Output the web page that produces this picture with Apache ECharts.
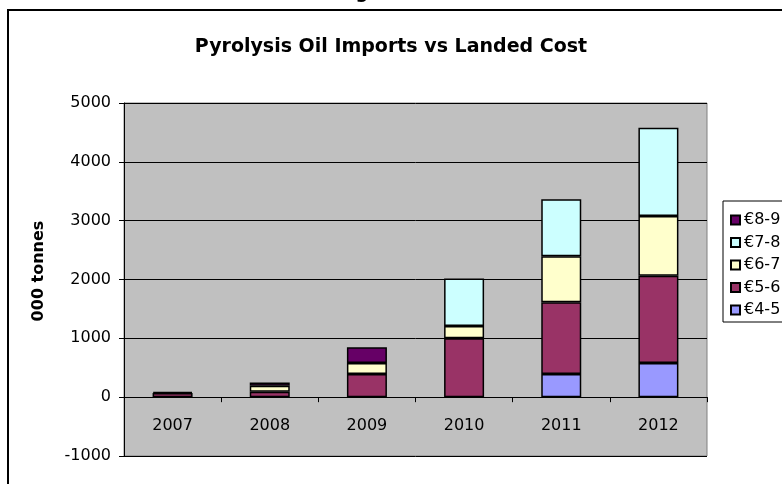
<!DOCTYPE html>
<html>
<head>
<meta charset="utf-8">
<script src="https://cdn.jsdelivr.net/npm/echarts@6/dist/echarts.min.js"></script>
<style>
  html, body { margin: 0; padding: 0; background: #fff; }
  #chart { width: 782px; height: 484px; }
</style>
</head>
<body>
<div id="chart"></div>
<script>
// Import years
const years = ['2007', '2008', '2009', '2010', '2011', '2012'];

// Imports by landed-cost band, thousand tonnes (null = none in that year)
const band45 = [null, null, null, null, 395, 580];
const band56 = [70, 90, 395, 1000, 1220, 1485];
const band67 = [null, 105, 185, 210, 780, 1015];
const band78 = [null, null, null, 805, 970, 1500];
const band89 = [20, 55, 270, null, null, null];

const bandNames = ['€4-5', '€5-6', '€6-7', '€7-8', '€8-9'];
const bandValues = [band45, band56, band67, band78, band89];
const bandColors = ['#9999FF', '#993366', '#FFFFCC', '#CCFFFF', '#660066'];

const FONT = 'DejaVu Sans, Liberation Sans, Arial, sans-serif';

const chart = echarts.init(document.getElementById('chart'), null, { renderer: 'canvas' });

const series = bandNames.map((name, i) => ({
  name: name,
  type: 'bar',
  stack: 'imports',
  barWidth: 40,
  data: bandValues[i],
  itemStyle: { color: bandColors[i], borderColor: '#000', borderWidth: 1.5 },
  emphasis: { disabled: true }
}));

chart.setOption({
  animation: false,
  backgroundColor: '#fff',
  title: {
    text: 'Pyrolysis Oil Imports vs Landed Cost',
    left: 'center',
    top: 33,
    textStyle: { fontFamily: FONT, fontSize: 19, fontWeight: 'bold', color: '#000' }
  },
  grid: {
    left: 124, right: 75, top: 103, bottom: 28,
    show: true,
    backgroundColor: '#C0C0C0',
    borderColor: '#808080',
    borderWidth: 1
  },
  legend: {
    orient: 'vertical',
    left: 725,
    top: 207,
    data: bandNames.slice().reverse(),
    itemWidth: 9,
    itemHeight: 9,
    itemGap: 6.5,
    icon: 'rect',
    textStyle: { fontFamily: FONT, fontSize: 16, lineHeight: 16, color: '#000', padding: [0, 0, 0, -1] }
  },
  xAxis: {
    type: 'category',
    data: years,
    axisLine: { onZero: true, lineStyle: { color: '#000', width: 1 } },
    axisTick: { show: true, length: 5, lineStyle: { color: '#000' } },
    // labels sit just under the zero line
    axisLabel: { margin: -38, fontFamily: FONT, fontSize: 16, color: '#000' },
    splitLine: { show: false }
  },
  yAxis: {
    type: 'value',
    min: -1000,
    max: 5000,
    interval: 1000,
    axisLine: { show: true, lineStyle: { color: '#000', width: 1 } },
    axisTick: { show: true, length: 5, lineStyle: { color: '#000' } },
    axisLabel: { margin: 13, fontFamily: FONT, fontSize: 16, color: '#000', formatter: (v) => String(v) },
    splitLine: { show: true, lineStyle: { color: '#000', width: 1 } }
  },
  series: series,
  graphic: [
    // outer frame of the chart sheet
    {
      type: 'rect',
      shape: { x: 8, y: 10, width: 820, height: 520 },
      style: { fill: null, stroke: '#000', lineWidth: 2 },
      silent: true, z: 100
    },
    // tail of the heading above the frame
    {
      type: 'text',
      x: 362, y: 2,
      style: { text: 'g', font: 'bold 18px ' + FONT, fill: '#000', align: 'center', verticalAlign: 'bottom' },
      silent: true
    },
    // legend box
    {
      type: 'rect',
      shape: { x: 723, y: 201, width: 120, height: 121 },
      style: { fill: '#fff', stroke: '#000', lineWidth: 1 },
      silent: true, z: -1
    },
    // value axis title
    {
      type: 'text',
      x: 39, y: 271,
      rotation: Math.PI / 2,
      style: { text: '000 tonnes', font: 'bold 16px ' + FONT, fill: '#000', align: 'center', verticalAlign: 'middle' },
      silent: true
    }
  ]
});
</script>
</body>
</html>
